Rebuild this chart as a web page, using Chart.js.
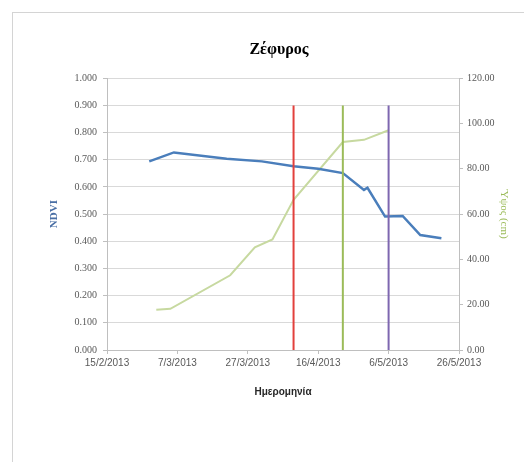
<!DOCTYPE html>
<html>
<head>
<meta charset="utf-8">
<script src="https://cdn.jsdelivr.net/npm/chart.js@4"></script>
<style>
  html, body { margin: 0; padding: 0; background: #fff; }
  .frame { position: absolute; left: 12px; top: 12px; width: 620px; height: 560px; border: 1px solid #d4d4d4; }
  #chart { position: absolute; left: 0; top: 0; }
</style>
</head>
<body>
<div class="frame"></div>
<canvas id="chart" width="524" height="462"></canvas>
<script>
// Ζέφυρος - NDVI and plant height over time
const ndviDates = ['27/2/2013', '6/3/2013', '21/3/2013', '31/3/2013', '9/4/2013', '16/4/2013', '23/4/2013',
  '29/4/2013', '30/4/2013', '5/5/2013', '10/5/2013', '15/5/2013', '21/5/2013'];
const ndviValues = [0.694, 0.727, 0.704, 0.694, 0.676, 0.667, 0.651, 0.589, 0.597, 0.491, 0.493, 0.423, 0.411];

const heightDates = ['1/3/2013', '5/3/2013', '22/3/2013', '29/3/2013', '3/4/2013', '9/4/2013', '23/4/2013',
  '29/4/2013', '6/5/2013'];
const heightValues = [17.8, 18.2, 33.0, 45.3, 48.8, 66.3, 91.8, 92.8, 97.0];

// vertical marker lines (stage dates), drawn from 0 to markerTop on the NDVI axis
const markerDates = ['9/4/2013', '23/4/2013', '6/5/2013'];
const markerTop = 0.9;

const xTickLabels = ['15/2/2013', '7/3/2013', '27/3/2013', '16/4/2013', '6/5/2013', '26/5/2013'];

const startDate = new Date(2013, 1, 15);
function dayOffset(str) {
  const [d, m, y] = str.split('/').map(Number);
  return Math.round((new Date(y, m - 1, d) - startDate) / 86400000);
}

const markerColors = ['#e2403c', '#9bbb59', '#7e67b0'];

const markerSets = markerDates.map((d, i) => ({
  label: 'marker ' + d,
  data: [{ x: dayOffset(d), y: 0 }, { x: dayOffset(d), y: markerTop }],
  borderColor: markerColors[i],
  borderWidth: 2,
  pointRadius: 0,
  yAxisID: 'y'
}));

const config = {
  type: 'line',
  data: {
    datasets: [
      ...markerSets,
      {
        label: 'NDVI',
        data: ndviDates.map((d, i) => ({ x: dayOffset(d), y: ndviValues[i] })),
        borderColor: '#4a7ebb',
        borderWidth: 2.5,
        pointRadius: 0,
        tension: 0,
        yAxisID: 'y'
      },
      {
        label: 'Ύψος (cm)',
        data: heightDates.map((d, i) => ({ x: dayOffset(d), y: heightValues[i] })),
        borderColor: '#c7d9a0',
        borderWidth: 2,
        pointRadius: 0,
        tension: 0,
        yAxisID: 'y1'
      }
    ]
  },
  options: {
    responsive: false,
    animation: false,
    layout: { padding: { left: 44, right: 10, top: 0, bottom: 60 } },
    plugins: {
      legend: { display: false },
      tooltip: { enabled: false },
      title: {
        display: true,
        text: 'Ζέφυρος',
        color: '#000',
        font: { family: 'Liberation Serif', size: 16, weight: 'bold' },
        padding: { top: 40, bottom: 19 }
      }
    },
    scales: {
      x: {
        type: 'linear',
        min: 0,
        max: 100,
        afterFit: (s) => { s.height = 52; },
        afterBuildTicks: (s) => { s.ticks = xTickLabels.map((t, i) => ({ value: i * 20 })); },
        ticks: {
          maxRotation: 0,
          autoSkip: false,
          padding: 3,
          color: '#595959',
          font: { family: 'Liberation Sans', size: 10 },
          callback: (v, i) => xTickLabels[i]
        },
        grid: { drawOnChartArea: false, drawTicks: true, tickLength: 4, tickColor: '#bfbfbf' },
        border: { display: true, color: '#bfbfbf' },
        title: {
          display: true,
          text: 'Ημερομηνία',
          color: '#262626',
          font: { family: 'Liberation Sans', size: 10, weight: 'bold' },
          padding: { top: 0, bottom: 4 }
        }
      },
      y: {
        position: 'left',
        min: 0,
        max: 1,
        afterFit: (s) => { s.width = 63; },
        ticks: {
          stepSize: 0.1,
          padding: 6,
          color: '#595959',
          font: { family: 'Liberation Serif', size: 10 },
          callback: (v) => v.toFixed(3)
        },
        grid: { color: '#d9d9d9', lineWidth: 1, drawTicks: true, tickLength: 4, tickColor: '#bfbfbf' },
        border: { display: true, color: '#bfbfbf' },
        title: {
          display: true,
          text: 'NDVI',
          color: '#4a6fa5',
          font: { family: 'Liberation Serif', size: 11, weight: 'bold' },
          padding: { top: 4, bottom: 0 }
        }
      },
      y1: {
        position: 'right',
        min: 0,
        max: 120,
        afterFit: (s) => { s.width = 55; },
        ticks: {
          stepSize: 20,
          padding: 4,
          color: '#595959',
          font: { family: 'Liberation Serif', size: 10 },
          callback: (v) => v.toFixed(2)
        },
        grid: { drawOnChartArea: false, drawTicks: true, tickLength: 4, tickColor: '#bfbfbf' },
        border: { display: true, color: '#bfbfbf' },
        title: {
          display: true,
          text: 'Ύψος (cm)',
          color: '#9bbb59',
          font: { family: 'Liberation Serif', size: 11 },
          padding: { top: 4, bottom: 0 }
        }
      }
    }
  }
};

new Chart(document.getElementById('chart'), config);
</script>
</body>
</html>
